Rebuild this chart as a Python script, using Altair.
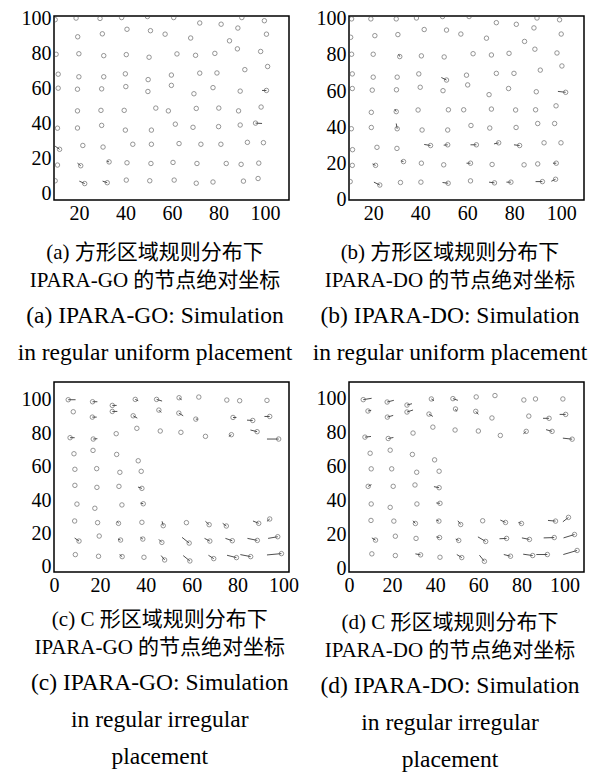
import altair as alt
import pandas as pd

# ---------------- Panel (a): IPARA-GO, square region ----------------
A_CX = [9.7, 18.7, 29.0, 38.3, 49.4, 60.7, 71.9, 81.1, 90.0, 99.7, 88.3,
        19.4, 30.0, 40.6, 50.7, 57.0, 68.0, 84.7, 100.6,
        10.1, 19.9, 30.6, 40.3, 50.1, 62.1, 70.1, 78.4, 88.1, 98.1,
        11.0, 19.9, 30.6, 39.9, 49.7, 59.7, 71.9, 79.3, 91.3, 101.1,
        11.0, 19.3, 29.7, 40.1, 49.6, 59.7, 69.4, 77.6, 89.3, 100.6,
        19.3, 29.4, 39.4, 53.0, 58.4, 70.4, 80.1, 88.6, 98.3,
        10.7, 19.3, 29.7, 39.9, 51.1, 61.4, 69.0, 80.0, 89.3, 95.9,
        11.6, 21.6, 30.3, 43.1, 51.1, 63.0, 72.4, 81.0, 92.4, 99.3,
        10.7, 20.7, 32.9, 40.6, 50.9, 60.4, 70.7, 83.3, 89.7, 97.3,
        9.7, 22.4, 32.1, 40.3, 50.4, 60.9, 70.4, 77.6, 90.7, 97.0]
A_CY = [99.5, 100.4, 100.2, 100.7, 101.3, 100.7, 97.6, 96.9, 100.7, 98.9, 94.7,
        89.7, 91.4, 94.0, 93.2, 91.2, 89.0, 87.4, 91.2,
        79.7, 80.0, 78.9, 79.5, 78.0, 79.9, 79.1, 80.2, 82.8, 81.3,
        68.3, 66.8, 66.8, 68.5, 65.2, 67.8, 68.9, 69.0, 70.9, 72.7,
        60.3, 59.7, 59.9, 61.2, 58.4, 61.9, 57.1, 60.6, 58.6, 59.0,
        47.3, 47.6, 47.6, 48.9, 47.3, 48.7, 48.9, 47.3, 49.5,
        37.4, 37.5, 39.0, 36.3, 36.3, 39.7, 37.9, 38.3, 39.2, 40.3,
        25.3, 27.5, 26.6, 28.2, 28.2, 28.6, 28.2, 28.2, 29.3, 29.1,
        16.3, 15.9, 18.1, 17.6, 17.2, 17.8, 17.2, 17.2, 16.7, 17.4,
        7.3, 5.7, 6.2, 7.7, 7.3, 7.7, 5.9, 6.6, 7.1, 8.6]
A_EX = [9.7, 18.7, 29.0, 38.3, 49.4, 60.7, 71.9, 81.1, 90.0, 99.7, 88.3,
        19.4, 30.0, 40.6, 50.7, 57.0, 68.0, 84.7, 100.6,
        10.1, 19.9, 30.6, 40.3, 50.1, 62.1, 70.1, 78.4, 88.1, 98.1,
        11.0, 19.9, 30.6, 39.9, 49.7, 59.7, 71.9, 79.3, 91.3, 101.1,
        11.0, 19.3, 29.7, 40.1, 49.6, 59.7, 69.4, 77.6, 89.3, 98.7,
        19.3, 29.4, 39.4, 53.0, 58.4, 70.4, 80.1, 88.6, 98.3,
        10.7, 19.3, 29.7, 39.9, 51.1, 61.4, 69.0, 80.0, 89.3, 98.7,
        9.7, 21.6, 30.3, 43.1, 51.1, 63.0, 72.4, 81.0, 92.4, 99.3,
        10.7, 19.3, 31.9, 40.6, 50.9, 60.4, 70.7, 83.3, 89.7, 97.3,
        9.7, 20.1, 30.1, 40.3, 50.4, 60.9, 70.4, 77.6, 90.7, 97.0]
A_EY = [99.5, 100.4, 100.2, 100.7, 101.3, 100.7, 97.6, 96.9, 100.7, 98.9, 94.7,
        89.7, 91.4, 94.0, 93.2, 91.2, 89.0, 87.4, 91.2,
        79.7, 80.0, 78.9, 79.5, 78.0, 79.9, 79.1, 80.2, 82.8, 81.3,
        68.3, 66.8, 66.8, 68.5, 65.2, 67.8, 68.9, 69.0, 70.9, 72.7,
        60.3, 59.7, 59.9, 61.2, 58.4, 61.9, 57.1, 60.6, 58.6, 59.0,
        47.3, 47.6, 47.6, 48.9, 47.3, 48.7, 48.9, 47.3, 49.5,
        37.4, 37.5, 39.0, 36.3, 36.3, 39.7, 37.9, 38.3, 39.2, 40.1,
        27.1, 27.5, 26.6, 28.2, 28.2, 28.6, 28.2, 28.2, 29.3, 29.1,
        16.3, 17.4, 18.6, 17.6, 17.2, 17.8, 17.2, 17.2, 16.7, 17.4,
        7.3, 7.1, 7.1, 7.7, 7.3, 7.7, 5.9, 6.6, 7.1, 8.6]

# ---------------- Panel (b): IPARA-DO, square region ----------------
B_CX = [10.8, 19.0, 29.8, 38.4, 49.5, 60.8, 72.4, 80.9, 89.7, 99.3, 88.4,
        10.4, 20.7, 30.5, 41.7, 51.2, 57.3, 68.2, 84.4, 100.0,
        10.8, 20.0, 31.3, 40.5, 50.2, 62.5, 70.3, 77.8, 88.8, 98.2,
        11.1, 20.0, 30.2, 39.4, 51.2, 59.7, 72.4, 79.9, 91.1, 100.3,
        11.1, 19.6, 29.9, 40.0, 49.7, 60.2, 69.3, 77.6, 89.4, 101.9,
        19.2, 29.8, 39.1, 52.0, 58.5, 70.3, 80.6, 89.1, 97.8,
        10.7, 19.2, 30.2, 40.8, 51.7, 61.6, 69.6, 80.8, 90.0, 97.2,
        11.2, 21.6, 30.1, 44.4, 51.7, 63.9, 73.4, 82.3, 92.7, 99.9,
        11.1, 21.0, 32.9, 40.5, 50.0, 61.4, 70.6, 84.2, 90.0, 97.9,
        10.2, 22.8, 31.6, 40.3, 51.9, 61.4, 71.6, 78.6, 92.0, 97.6]
B_CY = [100.0, 100.0, 100.0, 100.5, 101.3, 101.3, 97.9, 97.0, 100.5, 99.5, 95.0,
        89.8, 90.7, 91.3, 94.1, 93.8, 91.6, 89.3, 87.5, 91.6,
        80.4, 80.4, 79.1, 79.5, 78.9, 80.7, 80.0, 80.9, 83.2, 81.1,
        69.5, 67.7, 67.7, 69.5, 66.1, 68.8, 69.8, 69.8, 71.6, 73.9,
        61.4, 60.5, 60.7, 62.1, 60.2, 63.4, 58.0, 61.4, 59.6, 59.3,
        48.2, 48.6, 49.5, 49.6, 49.6, 50.0, 49.5, 49.6, 51.8,
        39.1, 39.8, 39.1, 38.4, 38.4, 40.9, 39.5, 39.8, 42.0, 42.0,
        27.5, 28.8, 28.2, 29.8, 30.2, 30.2, 31.3, 29.8, 31.3, 31.3,
        18.8, 18.8, 20.9, 20.0, 19.1, 20.0, 19.3, 19.1, 19.6, 20.0,
        9.8, 7.9, 9.3, 9.5, 8.9, 10.2, 9.1, 9.5, 9.8, 11.1]
B_EX = [10.8, 19.0, 29.8, 38.4, 49.5, 60.8, 72.4, 80.9, 89.7, 99.3, 88.4,
        10.4, 20.7, 30.5, 41.7, 51.2, 57.3, 68.2, 84.4, 100.0,
        10.8, 20.0, 30.8, 40.5, 50.2, 62.5, 70.3, 77.8, 88.8, 98.2,
        11.1, 20.0, 30.2, 39.4, 49.0, 59.7, 72.4, 79.9, 91.1, 100.3,
        11.1, 19.6, 29.9, 40.0, 49.7, 60.2, 69.3, 77.6, 89.4, 98.6,
        19.2, 29.2, 39.1, 52.0, 58.5, 70.3, 80.6, 89.1, 97.8,
        10.7, 19.2, 29.8, 40.8, 51.7, 61.6, 69.6, 80.8, 90.0, 97.2,
        11.2, 21.6, 30.1, 41.7, 50.0, 61.4, 71.4, 79.9, 92.7, 99.9,
        11.1, 19.7, 31.8, 40.5, 50.0, 59.7, 70.6, 84.2, 90.0, 96.5,
        10.2, 20.3, 31.6, 40.3, 49.5, 61.4, 69.3, 76.7, 89.1, 95.8]
B_EY = [100.0, 100.0, 100.0, 100.5, 101.3, 101.3, 97.9, 97.0, 100.5, 99.5, 95.0,
        89.8, 90.7, 91.3, 94.1, 93.8, 91.6, 89.3, 87.5, 91.6,
        80.4, 80.4, 80.4, 79.5, 78.9, 80.7, 80.0, 80.9, 83.2, 81.1,
        69.5, 67.7, 67.7, 69.5, 67.5, 68.8, 69.8, 69.8, 71.6, 73.9,
        61.4, 60.5, 60.7, 62.1, 60.2, 63.4, 58.0, 61.4, 59.6, 59.8,
        48.2, 50.0, 49.5, 49.6, 49.6, 50.0, 49.5, 49.6, 51.8,
        39.1, 39.8, 42.0, 38.4, 38.4, 40.9, 39.5, 39.8, 42.0, 42.0,
        27.5, 28.8, 28.2, 30.4, 30.0, 30.2, 30.7, 30.2, 31.3, 31.3,
        18.8, 19.6, 21.3, 20.0, 19.1, 20.0, 19.3, 19.1, 19.6, 20.0,
        9.8, 9.5, 9.3, 9.5, 9.3, 10.2, 9.5, 9.5, 9.8, 10.0]

# ---------------- Panel (c): IPARA-GO, C-shaped region ----------------
C_CX = [6.2, 16.8, 25.4, 35.4, 44.7, 54.5, 63.1, 75.3, 80.9, 92.8,
        8.4, 16.7, 25.4, 34.5, 45.7, 54.4, 61.8, 78.0, 86.6, 94.0,
        7.0, 17.1, 27.1, 36.1, 46.3, 55.3, 66.0, 77.3, 88.5, 97.9,
        8.7, 17.0, 27.3, 36.7,
        9.1, 18.6, 28.7, 38.0,
        9.1, 18.7, 28.3, 38.3,
        10.0, 17.8, 29.6, 38.9,
        9.0, 19.0, 28.1, 38.3, 47.6, 57.7, 67.6, 75.1, 89.2, 94.0,
        10.9, 19.7, 29.0, 38.7, 47.0, 58.9, 67.9, 77.7, 88.6, 97.5,
        9.3, 19.4, 29.7, 39.2, 48.2, 59.2, 69.6, 79.5, 85.7, 99.1]
C_CY = [100.0, 98.8, 96.6, 100.2, 100.2, 101.2, 101.6, 99.8, 99.4, 99.6,
        92.8, 89.6, 93.0, 90.4, 93.8, 92.0, 88.4, 89.4, 87.6, 90.0,
        77.3, 76.5, 79.7, 82.9, 81.3, 80.5, 78.1, 79.1, 80.9, 76.5,
        67.7, 69.7, 67.3, 63.5,
        58.4, 58.8, 56.6, 57.2,
        48.8, 47.6, 48.2, 47.0,
        37.6, 35.1, 37.1, 37.8,
        27.5, 26.5, 26.1, 26.7, 24.7, 26.5, 25.3, 24.5, 26.1, 28.7,
        15.5, 18.5, 16.1, 16.7, 14.7, 14.3, 15.5, 15.7, 15.9, 18.1,
        7.4, 6.4, 6.2, 5.8, 4.2, 3.6, 5.0, 5.6, 6.2, 8.0]
C_EX = [9.4, 18.9, 27.3, 36.7, 47.1, 55.6, 63.1, 75.3, 80.9, 92.8,
        8.4, 18.6, 27.6, 36.3, 46.7, 56.3, 62.7, 79.5, 84.1, 91.7,
        9.0, 18.9, 27.1, 36.1, 46.3, 55.3, 66.0, 76.2, 85.6, 92.8,
        8.7, 17.0, 27.3, 36.7,
        9.1, 18.6, 28.7, 38.0,
        9.1, 18.7, 28.3, 36.6,
        10.0, 17.8, 29.6, 37.7,
        9.0, 19.0, 27.6, 38.3, 47.1, 57.7, 66.0, 73.5, 86.7, 92.8,
        9.0, 19.7, 27.9, 37.7, 45.7, 55.8, 65.6, 74.7, 84.3, 93.3,
        9.3, 19.4, 28.6, 39.2, 46.7, 56.3, 67.3, 75.4, 81.2, 92.8]
C_EY = [100.0, 98.8, 96.6, 99.4, 99.2, 100.0, 101.6, 99.8, 99.4, 99.6,
        92.8, 89.6, 93.0, 89.0, 92.4, 90.4, 88.4, 89.4, 87.8, 90.0,
        77.3, 76.7, 79.7, 82.9, 81.3, 80.5, 78.1, 78.1, 81.9, 76.5,
        67.7, 69.7, 67.3, 63.5,
        58.4, 58.8, 56.6, 57.2,
        48.8, 47.6, 48.2, 47.8,
        37.6, 35.1, 37.1, 38.2,
        27.5, 26.5, 27.3, 26.7, 27.3, 26.5, 27.3, 26.1, 27.5, 27.3,
        17.3, 18.5, 16.7, 17.7, 16.5, 17.7, 17.1, 17.1, 17.1, 17.1,
        7.4, 6.4, 7.4, 5.8, 6.8, 6.8, 7.0, 7.0, 7.4, 7.2]

# ---------------- Panel (d): IPARA-DO, C-shaped region ----------------
D_CX = [6.6, 17.7, 26.9, 38.2, 48.2, 59.0, 67.7, 81.1, 86.5, 99.2,
        8.8, 17.8, 26.9, 37.1, 49.4, 58.8, 66.3, 83.4, 92.8, 100.5,
        7.4, 18.2, 29.7, 38.9, 49.2, 60.0, 70.2, 82.2, 94.2, 103.5,
        9.8, 19.1, 29.4, 39.7,
        10.3, 19.8, 31.4, 41.8,
        8.9, 20.5, 30.6, 41.8,
        10.3, 19.1, 31.5, 42.2,
        10.2, 20.8, 30.8, 41.7, 51.8, 62.0, 72.6, 80.0, 95.8, 101.8,
        12.3, 21.5, 31.1, 42.0, 50.9, 63.4, 73.1, 83.7, 95.2, 104.6,
        10.6, 21.5, 33.2, 42.2, 52.3, 62.8, 74.9, 85.2, 92.0, 105.8]
D_CY = [99.6, 98.2, 96.4, 100.0, 100.2, 101.2, 102.0, 99.4, 100.0, 100.0,
        92.9, 89.3, 92.3, 91.1, 94.1, 92.7, 88.8, 89.9, 88.6, 90.9,
        77.5, 76.7, 79.9, 83.4, 81.7, 81.1, 78.5, 80.9, 80.9, 76.3,
        68.0, 69.8, 67.3, 64.1,
        58.8, 58.8, 56.8, 57.4,
        48.5, 48.5, 49.3, 47.7,
        38.1, 36.1, 38.1, 38.5,
        28.4, 28.0, 26.6, 28.0, 26.0, 28.2, 27.2, 26.6, 28.0, 30.2,
        16.8, 19.1, 17.8, 18.3, 16.6, 16.0, 17.8, 17.2, 18.3, 20.1,
        8.7, 7.7, 8.1, 6.7, 6.5, 4.3, 7.3, 7.7, 8.3, 10.7]
D_EX = [10.5, 20.8, 29.2, 39.4, 50.5, 59.0, 67.7, 81.1, 86.5, 99.2,
        10.3, 20.5, 29.7, 38.9, 49.9, 60.0, 66.3, 83.4, 90.0, 97.7,
        10.2, 20.6, 29.7, 38.9, 49.2, 60.0, 70.2, 80.9, 91.4, 99.2,
        9.8, 19.1, 29.4, 39.7,
        10.3, 19.8, 31.4, 41.8,
        10.4, 20.5, 30.6, 39.4,
        10.3, 19.1, 31.5, 40.5,
        10.2, 20.8, 29.7, 40.5, 50.5, 62.0, 70.2, 78.6, 92.3, 99.2,
        10.6, 21.5, 31.1, 40.5, 49.5, 59.8, 69.8, 80.2, 90.3, 99.5,
        10.6, 21.5, 30.8, 42.2, 50.0, 60.5, 71.8, 80.8, 86.9, 99.4]
D_EY = [100.4, 99.2, 97.2, 99.0, 99.2, 101.2, 102.0, 99.4, 100.0, 100.0,
        93.3, 90.3, 93.5, 89.7, 92.7, 90.9, 88.8, 89.9, 88.6, 90.9,
        77.9, 77.3, 79.9, 83.4, 81.7, 81.1, 78.5, 79.5, 81.9, 76.9,
        68.0, 69.8, 67.3, 64.1,
        58.8, 58.8, 56.8, 57.4,
        49.5, 48.5, 49.3, 48.3,
        38.1, 36.1, 38.1, 38.7,
        28.4, 28.0, 28.2, 28.6, 28.2, 28.2, 28.6, 27.2, 28.4, 27.6,
        18.1, 19.1, 17.8, 18.7, 17.4, 18.7, 17.6, 18.1, 18.1, 18.1,
        8.7, 7.7, 8.7, 6.7, 8.3, 7.9, 8.3, 8.5, 8.3, 8.3]

TICKS = [0, 20, 40, 60, 80, 100]

CAP_A = ["(a) 方形区域规则分布下", "IPARA-GO 的节点绝对坐标"]
SUB_A = ["(a) IPARA-GO: Simulation", "in regular uniform placement"]
CAP_B = ["(b) 方形区域规则分布下", "IPARA-DO 的节点绝对坐标"]
SUB_B = ["(b) IPARA-DO: Simulation", "in regular uniform placement"]
CAP_C = ["(c) C 形区域规则分布下", "IPARA-GO 的节点绝对坐标"]
SUB_C = ["(c) IPARA-GO: Simulation", "in regular irregular", "placement"]
CAP_D = ["(d) C 形区域规则分布下", "IPARA-DO 的节点绝对坐标"]
SUB_D = ["(d) IPARA-DO: Simulation", "in regular irregular", "placement"]

SERIF = "Liberation Serif, Noto Sans CJK SC"


def make_axis():
    return alt.Axis(values=TICKS, domain=False, ticks=False, grid=False,
                    labelFont="Liberation Serif", labelFontSize=20,
                    labelColor="black", title=None, labelPadding=3,
                    labelOverlap=False, labelFlush=False, labelBound=False)


def panel(cx, cy, ex, ey, xdom, ydom, cap, sub, offset, height):
    df = pd.DataFrame({"x": cx, "y": cy, "x2": ex, "y2": ey})
    xs = alt.Scale(domain=xdom, nice=False, zero=False)
    ys = alt.Scale(domain=ydom, nice=False, zero=False)
    base = alt.Chart(df)
    segs = base.mark_rule(color="#222222", strokeWidth=0.8, clip=True).encode(
        x=alt.X("x:Q", scale=xs, axis=make_axis()),
        y=alt.Y("y:Q", scale=ys, axis=make_axis()),
        x2="x2:Q", y2="y2:Q")
    pts = base.mark_point(shape="circle", filled=False, size=20, color="#444444",
                          strokeWidth=0.8, clip=True).encode(
        x=alt.X("x:Q", scale=xs, axis=make_axis()),
        y=alt.Y("y:Q", scale=ys, axis=make_axis()))
    return alt.layer(segs, pts).properties(
        width=235, height=height,
        title=alt.TitleParams(
            text=cap, subtitle=sub, orient="bottom", anchor="middle",
            frame="bounds", baseline="top", font=SERIF, fontSize=21,
            fontWeight="normal", lineHeight=28, color="black",
            subtitleFont=SERIF, subtitleFontSize=23.5, subtitleLineHeight=37,
            subtitleColor="black", subtitlePadding=13, offset=offset))


pa = panel(A_CX, A_CY, A_EX, A_EY, [9.2, 110.3], [-3.7, 101.6], CAP_A, SUB_A, 19, 184)
pb = panel(B_CX, B_CY, B_EX, B_EY, [9.7, 109.7], [-0.4, 101.6], CAP_B, SUB_B, 19, 184)
pc = panel(C_CX, C_CY, C_EX, C_EY, [0, 102.4], [-3, 110.6], CAP_C, SUB_C, 14, 190)
pd_ = panel(D_CX, D_CY, D_EX, D_EY, [0, 109], [-2, 110], CAP_D, SUB_D, 17, 190)

chart = alt.concat(pa, pb, pc, pd_, columns=2,
                   spacing={"row": 182, "column": 60}, bounds="flush").configure_view(
    stroke="black", strokeWidth=1.5).properties(
    padding={"left": 8, "top": 0, "right": 2, "bottom": 0}, background="white")

chart.save("out.html", embed_options={"renderer": "svg", "actions": False})
